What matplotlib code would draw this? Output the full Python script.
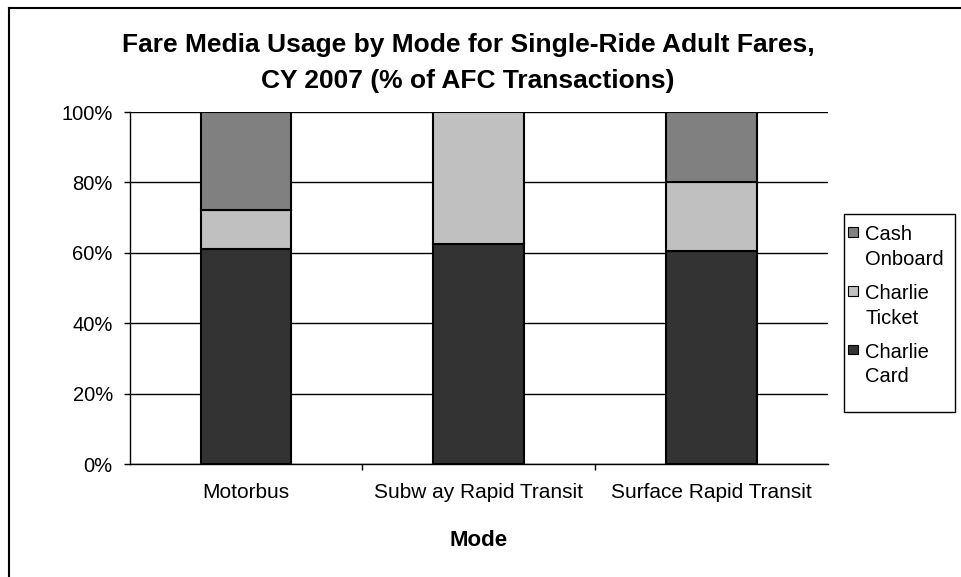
import matplotlib
matplotlib.use("Agg")
import matplotlib.pyplot as plt
from matplotlib.lines import Line2D
from matplotlib.patches import Patch, Rectangle
from matplotlib.legend_handler import HandlerBase
import numpy as np

plt.rcParams['font.family'] = ['Liberation Sans', 'DejaVu Sans']

modes = ["Motorbus", "Subw ay Rapid Transit", "Surface Rapid Transit"]
charlie_card = [61.1, 62.4, 60.6]
charlie_ticket = [11.0, 37.6, 19.4]
cash_onboard = [27.9, 0.0, 20.0]
series_labels = ["Charlie\nCard", "Charlie\nTicket", "Cash\nOnboard"]
series_colors = ["#333333", "#C0C0C0", "#808080"]
yticks = [0, 20, 40, 60, 80, 100]
ytick_labels = ["0%", "20%", "40%", "60%", "80%", "100%"]

W, H = 961, 577
fig = plt.figure(figsize=(W / 100, H / 100), dpi=100)
ax = fig.add_axes([129.5 / W, 1 - 464 / H, (828 - 129.5) / W, (464 - 112) / H])

# figure border (top and left visible)
fig.add_artist(Line2D([9 / W, 9 / W], [0, 1 - 8 / H], transform=fig.transFigure, color='black', lw=1.5))
fig.add_artist(Line2D([9 / W, 1], [1 - 8 / H, 1 - 8 / H], transform=fig.transFigure, color='black', lw=1.5))

x = np.arange(len(modes))
width = 0.39
bottom = np.zeros(len(modes))
handles = []
for vals, lab, col in zip([charlie_card, charlie_ticket, cash_onboard], series_labels, series_colors):
    v = np.array(vals)
    mask = v > 0
    ax.bar(x[mask], v[mask], width, bottom=bottom[mask], color=col, edgecolor='black', linewidth=1.5, zorder=3)
    bottom += v
    handles.append(Patch(facecolor=col, edgecolor='black', linewidth=0.8, label=lab))

ax.set_xlim(-0.5, 2.5)
ax.set_ylim(0, 100)
ax.set_yticks(yticks)
ax.set_yticklabels(ytick_labels, fontsize=14.5)
ax.yaxis.grid(True, color='black', linewidth=1)
ax.set_axisbelow(True)
ax.tick_params(axis='y', direction='out', length=4.5, width=1, pad=7.5)

ax.set_xticks(x)
ax.set_xticklabels(modes, fontsize=15)
ax.tick_params(axis='x', length=0, pad=14)
ax.set_xticks([0.5, 1.5], minor=True)
ax.tick_params(axis='x', which='minor', direction='out', length=4, width=1)

for s in ['top', 'right']:
    ax.spines[s].set_visible(False)
ax.spines['left'].set_linewidth(1)
ax.spines['bottom'].set_linewidth(1)

ax.set_xlabel("Mode", fontsize=16, fontweight='bold', labelpad=20)
fig.text(468 / W, 1 - 63 / H,
         "Fare Media Usage by Mode for Single-Ride Adult Fares,\nCY 2007 (% of AFC Transactions)",
         ha='center', va='center', fontsize=19, fontweight='bold', linespacing=1.6)


class TopSquareHandler(HandlerBase):
    def create_artists(self, legend, orig_handle, xdescent, ydescent, width, height, fontsize, trans):
        size = 0.48 * fontsize
        y0 = -ydescent + 0.8 * fontsize
        r = Rectangle((-xdescent, y0), size, size, facecolor=orig_handle.get_facecolor(),
                      edgecolor='black', linewidth=0.8, transform=trans)
        return [r]


# legend frame (Excel-style box, taller than its content)
fig.add_artist(Rectangle((844 / W, 1 - 412 / H), (955 - 844) / W, (412 - 214) / H,
                         transform=fig.transFigure, facecolor='white', edgecolor='black', linewidth=1))

leg = fig.legend(handles=handles[::-1], loc='upper left', bbox_to_anchor=(844 / W, 1 - 221 / H),
                 fontsize=14.5, frameon=False,
                 handlelength=0.5, handleheight=0.5, handletextpad=0.35, borderpad=0.2,
                 labelspacing=0.75, borderaxespad=0,
                 handler_map={Patch: TopSquareHandler()})
for t in leg.get_texts():
    t.set_linespacing(1.38)

fig.savefig("out.png", dpi=100)
